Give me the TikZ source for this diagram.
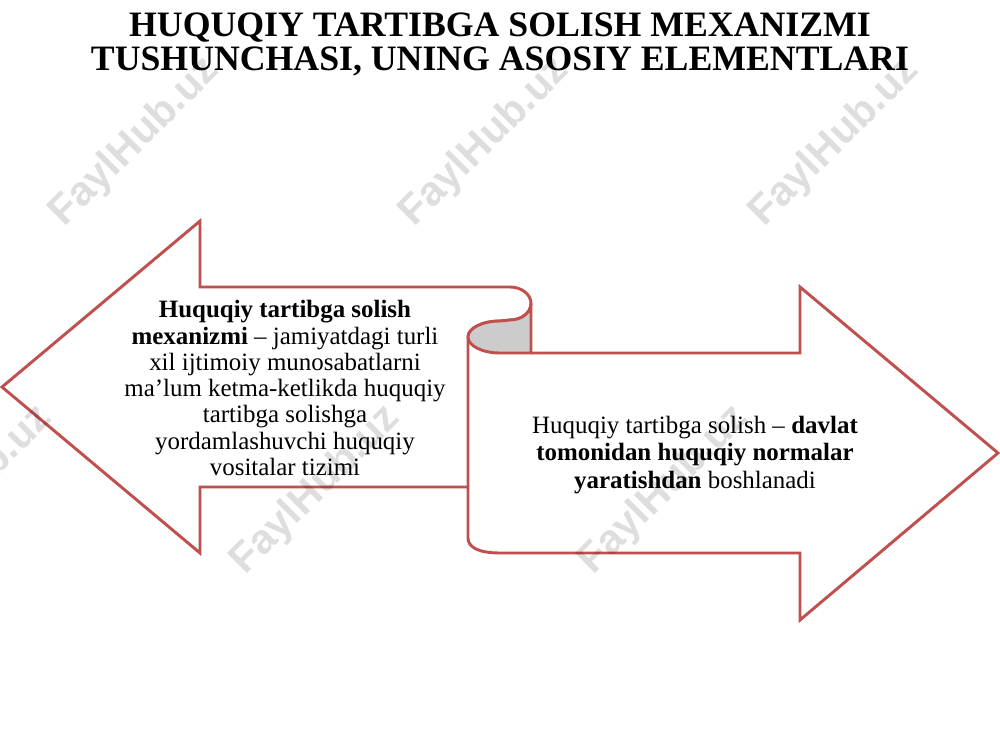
\documentclass[tikz,border=0pt]{standalone}
\usepackage{fontspec}
\setmainfont{Liberation Serif}
\newfontfamily\wmfont{Liberation Sans}
\definecolor{arrowred}{RGB}{192,80,77}
\definecolor{curlgray}{RGB}{204,204,204}
\begin{document}
\begin{tikzpicture}[x=0.75pt, y=-0.75pt,
  arrowline/.style={draw=arrowred, line width=2.2pt, line join=miter},
  boxtext/.style={align=center, inner sep=0pt},
  wmark/.style={font=\wmfont\bfseries\fontsize{31}{31}\selectfont, text=black, opacity=0.13, rotate=45}]
\useasboundingbox (0,0) rectangle (1000,750);
% title
\node[align=center, font=\bfseries\fontsize{26.8}{25.5}\selectfont] (title) at (500,44)
  {HUQUQIY TARTIBGA SOLISH MEXANIZMI\\TUSHUNCHASI, UNING ASOSIY ELEMENTLARI};
% both arrows as one ribbon
\draw[arrowline, fill=white] (468,487) -- (200,487) -- (200,553) -- (2,387) -- (200,221) -- (200,287) -- (510,287)
  .. controls (521.6,287) and (531,294.4) .. (531,303.5)
  .. controls (531,312.6) and (521.6,320) .. (510,320) -- (500,321)
  .. controls (482.4,321) and (468,328.2) .. (468,337) -- (468,538)
  .. controls (468,547) and (478,553) .. (500,553) -- (800,553) -- (800,620) -- (998,453) -- (800,287) -- (800,353) -- (531,353);
% curl
\draw[arrowline, fill=curlgray] (531,303.5) .. controls (531,312.6) and (521.6,320) .. (510,320) -- (500,321)
  .. controls (482.4,321) and (468,328.2) .. (468,337)
  .. controls (468,345.8) and (482.4,353) .. (500,353) -- (531,353) -- cycle;
% texts
\node[boxtext, font=\fontsize{18.7}{19.7}\selectfont] (lefttext) at (285,388)
  {\textbf{Huquqiy tartibga solish}\\\textbf{mexanizmi} -- jamiyatdagi turli\\xil ijtimoiy munosabatlarni\\ma’lum ketma-ketlikda huquqiy\\tartibga solishga\\yordamlashuvchi huquqiy\\vositalar tizimi};
\node[boxtext, font=\fontsize{18.7}{20.4}\selectfont] (righttext) at (695,455)
  {Huquqiy tartibga solish -- \textbf{davlat}\\\textbf{tomonidan huquqiy normalar}\\\textbf{yaratishdan} boshlanadi};
% watermarks
\node[wmark] (wm1) at (135,142) {FaylHub.uz};
\node[wmark] (wm2) at (485,142) {FaylHub.uz};
\node[wmark] (wm3) at (835,142) {FaylHub.uz};
\node[wmark] (wm4) at (-32,490) {FaylHub.uz};
\node[wmark] (wm5) at (316,490) {FaylHub.uz};
\node[wmark] (wm6) at (664,490) {FaylHub.uz};
\end{tikzpicture}
\end{document}
